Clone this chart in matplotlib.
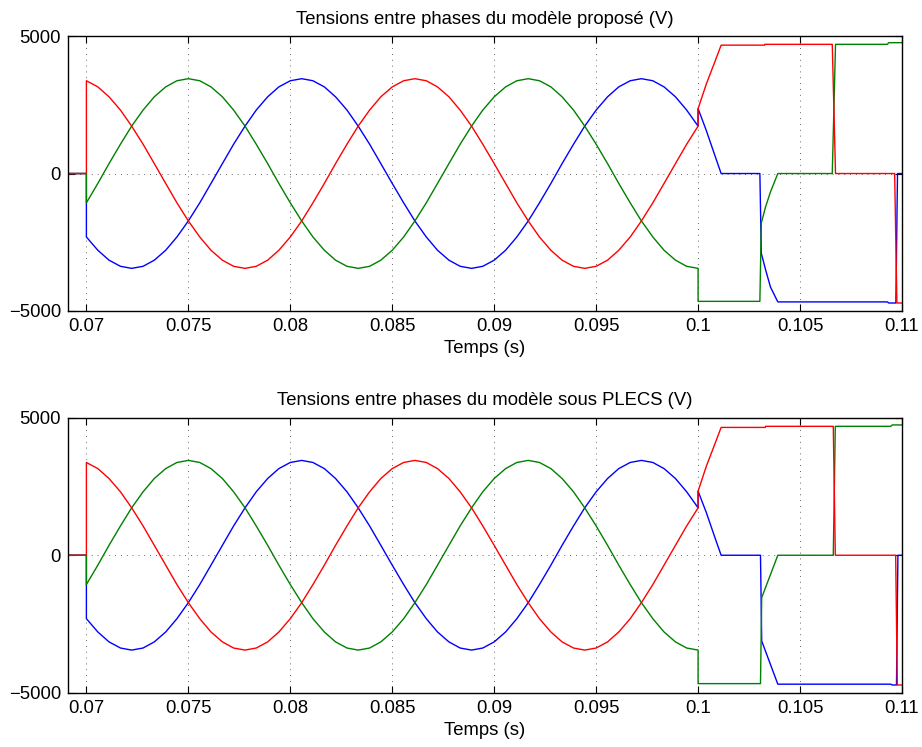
# Tensions entre phases - modele propose vs PLECS
import numpy as np
import matplotlib.pyplot as plt

plt.rcParams['font.family'] = ['Liberation Sans', 'DejaVu Sans']

# Time base before the start (all voltages are zero)
t_pre = [0.0690, 0.0700]
v_pre = [0, 0]

# Sinusoidal part, 0.07 s -> 0.1 s (same in both plots)
t_sine = [0.07000, 0.07056, 0.07111, 0.07167, 0.07222, 0.07278, 0.07333, 0.07389, 0.07444,
          0.07500, 0.07556, 0.07611, 0.07667, 0.07722, 0.07778, 0.07833, 0.07889, 0.07944,
          0.08000, 0.08056, 0.08111, 0.08167, 0.08222, 0.08278, 0.08333, 0.08389, 0.08444,
          0.08500, 0.08556, 0.08611, 0.08667, 0.08722, 0.08778, 0.08833, 0.08889, 0.08944,
          0.09000, 0.09056, 0.09111, 0.09167, 0.09222, 0.09278, 0.09333, 0.09389, 0.09444,
          0.09500, 0.09556, 0.09611, 0.09667, 0.09722, 0.09778, 0.09833, 0.09889, 0.09944,
          0.10000]

red_sine = [3375, 3152, 2791, 2308, 1725, 1066, 361, -361, -1066, -1725, -2308, -2791,
            -3152, -3375, -3450, -3375, -3152, -2791, -2308, -1725, -1066, -361, 361, 1066,
            1725, 2308, 2791, 3152, 3375, 3450, 3375, 3152, 2791, 2308, 1725, 1066, 361,
            -361, -1066, -1725, -2308, -2791, -3152, -3375, -3450, -3375, -3152, -2791,
            -2308, -1725, -1066, -361, 361, 1066, 1725]

green_sine = [-1066, -361, 361, 1066, 1725, 2308, 2791, 3152, 3375, 3450, 3375, 3152, 2791,
              2308, 1725, 1066, 361, -361, -1066, -1725, -2308, -2791, -3152, -3375, -3450,
              -3375, -3152, -2791, -2308, -1725, -1066, -361, 361, 1066, 1725, 2308, 2791,
              3152, 3375, 3450, 3375, 3152, 2791, 2308, 1725, 1066, 361, -361, -1066, -1725,
              -2308, -2791, -3152, -3375, -3450]

blue_sine = [-2308, -2791, -3152, -3375, -3450, -3375, -3152, -2791, -2308, -1725, -1066,
             -361, 361, 1066, 1725, 2308, 2791, 3152, 3375, 3450, 3375, 3152, 2791, 2308,
             1725, 1066, 361, -361, -1066, -1725, -2308, -2791, -3152, -3375, -3450, -3375,
             -3152, -2791, -2308, -1725, -1066, -361, 361, 1066, 1725, 2308, 2791, 3152,
             3375, 3450, 3375, 3152, 2791, 2308, 1725]

# After 0.1 s - modele propose
t_red_a = [0.1000, 0.1004, 0.10085, 0.10113, 0.10326, 0.10327, 0.10658, 0.10674, 0.10964, 0.10975, 0.1100]
v_red_a = [2360, 3250, 4120, 4670, 4670, 4700, 4700, 0, 0, -4710, -4710]
t_green_a = [0.1000, 0.10303, 0.10310, 0.10331, 0.10355, 0.10391, 0.10658, 0.10674, 0.10928, 0.10935, 0.1100]
v_green_a = [-4650, -4650, -1800, -1210, -670, 0, 0, 4700, 4700, 4760, 4760]
t_blue_a = [0.1000, 0.1004, 0.10085, 0.10113, 0.10303, 0.10310, 0.10331, 0.10355, 0.10391,
            0.10928, 0.10935, 0.10970, 0.10978, 0.1100]
v_blue_a = [2360, 1570, 600, 0, 0, -2900, -3500, -4130, -4670, -4670, -4710, -4710, 0, 0]

# After 0.1 s - modele sous PLECS
t_red_b = [0.1000, 0.1004, 0.10085, 0.10113, 0.10330, 0.10331, 0.10663, 0.10673, 0.10969, 0.10977, 0.1100]
v_red_b = [2330, 3230, 4100, 4650, 4650, 4690, 4690, 0, 0, -4720, -4720]
t_green_b = [0.1000, 0.10306, 0.10312, 0.10391, 0.10663, 0.10673, 0.10945, 0.10952, 0.1100]
v_green_b = [-4670, -4670, -1540, 0, 0, 4690, 4690, 4740, 4740]
t_blue_b = [0.1000, 0.1004, 0.10085, 0.10113, 0.10306, 0.10312, 0.10391, 0.10945, 0.10952,
            0.10973, 0.10980, 0.1100]
v_blue_b = [2330, 1560, 590, 0, 0, -3120, -4690, -4690, -4720, -4720, 0, 0]

titles = ['Tensions entre phases du modèle proposé (V)',
          'Tensions entre phases du modèle sous PLECS (V)']
xticks = [0.07, 0.075, 0.08, 0.085, 0.09, 0.095, 0.1, 0.105, 0.11]
xtick_labels = ['0.07', '0.075', '0.08', '0.085', '0.09', '0.095', '0.1', '0.105', '0.11']
yticks = [-5000, 0, 5000]
ytick_labels = ['\u22125000', '0', '5000']

after = [
    (t_blue_a, v_blue_a, t_green_a, v_green_a, t_red_a, v_red_a),
    (t_blue_b, v_blue_b, t_green_b, v_green_b, t_red_b, v_red_b),
]

fig = plt.figure(figsize=(9.22, 7.47), dpi=100)
positions = [[0.0738, 0.5837, 0.9045, 0.368], [0.0738, 0.0727, 0.9045, 0.368]]

fs = 13.3
for i in range(2):
    ax = fig.add_axes(positions[i])
    tb, vb, tg, vg, tr, vr = after[i]

    # blue, green, red (red drawn last)
    for t_post, v_post, sine, col in [(tb, vb, blue_sine, '#0000ff'),
                                      (tg, vg, green_sine, '#008000'),
                                      (tr, vr, red_sine, '#ff0000')]:
        t_all = np.concatenate([t_pre, t_sine, t_post])
        v_all = np.concatenate([v_pre, sine, v_post])
        ax.plot(t_all, v_all, color=col, linewidth=1.0)

    ax.set_xlim(0.0691, 0.11)
    ax.set_ylim(-5000, 5000)
    ax.set_xticks(xticks)
    ax.set_xticklabels(xtick_labels)
    ax.set_yticks(yticks)
    ax.set_yticklabels(ytick_labels)
    ax.tick_params(direction='in', length=5, width=0.8, top=True, right=True,
                   labelsize=fs, pad=5, colors='k')
    ax.grid(True, color='#333333', linestyle=(0, (1, 6)), linewidth=0.6)
    for s in ax.spines.values():
        s.set_linewidth(1.0)
    ax.set_title(titles[i], fontsize=fs, pad=9)
    ax.set_xlabel('Temps (s)', fontsize=fs, labelpad=4)

fig.savefig('out.png', dpi=100)
